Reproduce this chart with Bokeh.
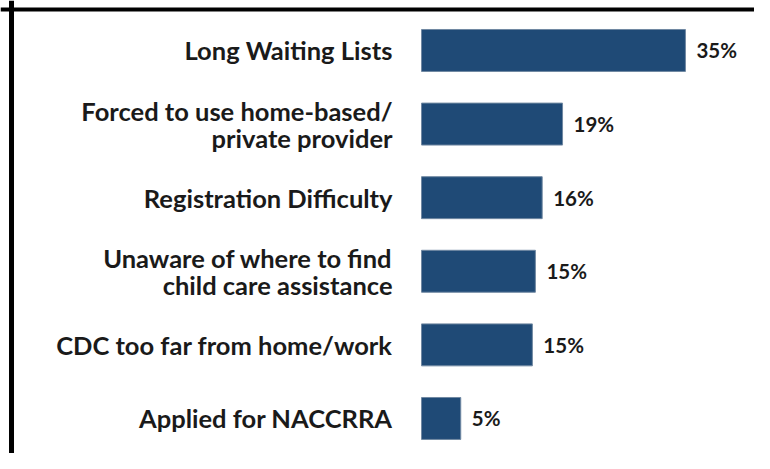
from bokeh.plotting import figure
from bokeh.models import ColumnDataSource, Range1d, Span
from bokeh.core.properties import value
from bokeh.embed import file_html
from bokeh.resources import INLINE

# ---- data ----
categories = [
    "Long Waiting Lists",
    "Forced to use home-based/\nprivate provider",
    "Registration Difficulty",
    "Unaware of where to find\nchild care assistance",
    "CDC too far from home/work",
    "Applied for NACCRRA",
]
percent = [35.0, 18.7, 16.0, 15.1, 14.7, 5.2]
value_labels = [f"{round(v)}%" for v in percent]
rank = list(range(len(categories)))  # 0 = top row

source = ColumnDataSource(dict(cat=categories, pct=percent, lbl=value_labels,
                               row=rank, zero=[0] * len(categories)))

p = figure(
    width=754, height=453,
    x_range=Range1d(-55.84, 44.16),
    y_range=Range1d(5.476, -0.679),
    x_axis_location=None, y_axis_location=None,
    toolbar_location=None, output_backend="svg",
    min_border=0,
)
p.border_fill_color = "white"
p.background_fill_color = "white"
p.outline_line_color = None
p.grid.visible = False

# frame border (top and left)
p.add_layout(Span(location=-54.38, dimension="height", line_color="black", line_width=5))
p.add_layout(Span(location=-0.557, dimension="width", line_color="black", line_width=4))

p.hbar(y="row", left=0, right="pct", height=0.57, source=source,
       fill_color="#1F4A76", line_color="#7088A2", line_width=1)

p.text(x="pct", y="row", text="lbl", source=source, x_offset=11,
       text_align="left", text_baseline="middle",
       text_font=value("Lato"), text_font_style="bold", text_font_size="20.5px",
       text_color="#1a1a1a")

p.text(x="zero", y="row", text="cat", source=source, x_offset=-29,
       text_align="right", text_baseline="middle", text_line_height=0.9,
       text_font=value("Lato"), text_font_style="bold", text_font_size="25.5px",
       text_color="#1a1a1a")

open("out.html", "w").write(file_html(p, INLINE))
